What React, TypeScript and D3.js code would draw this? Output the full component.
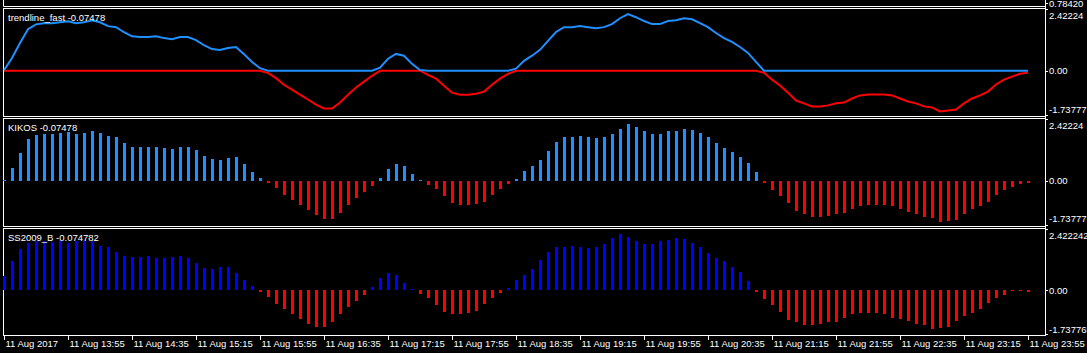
import React from "react";
import * as d3 from "d3";

// trendline_fast and KIKOS (same series)
const values: number[] = [
  0.02, 0.5, 1.09, 1.63, 1.82, 1.86, 1.86, 1.9, 1.94, 1.86,
  1.9, 1.98, 1.9, 1.75, 1.71, 1.51, 1.35, 1.32, 1.32, 1.35,
  1.28, 1.24, 1.32, 1.32, 1.2, 1.0, 0.85, 0.81, 0.89, 0.93,
  0.65, 0.34, 0.1, -0.09, -0.29, -0.55, -0.74, -0.94, -1.13, -1.33,
  -1.48, -1.48, -1.25, -0.94, -0.66, -0.43, -0.2, 0.12, 0.47, 0.66,
  0.59, 0.27, 0.03, -0.16, -0.31, -0.59, -0.86, -0.94, -0.94, -0.9,
  -0.82, -0.55, -0.31, -0.12, 0.08, 0.39, 0.59, 0.82, 1.17, 1.52,
  1.71, 1.71, 1.75, 1.71, 1.67, 1.71, 1.83, 2.06, 2.22, 2.1,
  1.95, 1.83, 1.83, 1.95, 1.98, 2.06, 2.02, 1.87, 1.71, 1.48,
  1.28, 1.13, 0.93, 0.7, 0.35, -0.08, -0.35, -0.58, -0.86, -1.17,
  -1.28, -1.4, -1.4, -1.36, -1.28, -1.25, -1.09, -0.97, -0.93, -0.93,
  -0.93, -0.97, -1.09, -1.21, -1.28, -1.4, -1.44, -1.6, -1.56, -1.52,
  -1.28, -1.09, -0.97, -0.82, -0.54, -0.35, -0.23, -0.12, -0.07478,
];

// SS2009_B (one bar ahead)
const ssValues: number[] = [
  0.55, 1.13, 1.64, 1.87, 1.95, 1.95, 1.91, 1.99, 1.87, 1.95,
  1.99, 1.95, 1.75, 1.71, 1.52, 1.36, 1.32, 1.32, 1.36, 1.28,
  1.28, 1.32, 1.36, 1.25, 1.05, 0.86, 0.82, 0.93, 0.93, 0.66,
  0.39, 0.16, -0.09, -0.29, -0.55, -0.74, -0.94, -1.13, -1.33, -1.48,
  -1.48, -1.25, -0.94, -0.66, -0.43, -0.2, 0.12, 0.47, 0.66, 0.59,
  0.27, 0.03, -0.16, -0.31, -0.59, -0.86, -0.94, -0.94, -0.9, -0.82,
  -0.55, -0.31, -0.12, 0.08, 0.39, 0.59, 0.82, 1.17, 1.52, 1.71,
  1.71, 1.75, 1.71, 1.67, 1.71, 1.83, 2.06, 2.22, 2.1, 1.95,
  1.83, 1.83, 1.95, 1.98, 2.06, 2.02, 1.87, 1.71, 1.48, 1.28,
  1.13, 0.93, 0.7, 0.35, -0.08, -0.35, -0.58, -0.86, -1.17, -1.28,
  -1.4, -1.4, -1.36, -1.28, -1.25, -1.09, -0.97, -0.93, -0.93, -0.93,
  -0.97, -1.09, -1.16, -1.23, -1.35, -1.39, -1.55, -1.51, -1.47, -1.23,
  -1.04, -0.92, -0.77, -0.53, -0.31, -0.18, -0.05, -0.04, -0.074782,
];

const timeLabels: string[] = [
  "11 Aug 2017", "11 Aug 13:55", "11 Aug 14:35", "11 Aug 15:15", "11 Aug 15:55",
  "11 Aug 16:35", "11 Aug 17:15", "11 Aug 17:55", "11 Aug 18:35", "11 Aug 19:15",
  "11 Aug 19:55", "11 Aug 20:35", "11 Aug 21:15", "11 Aug 21:55", "11 Aug 22:35",
  "11 Aug 23:15", "11 Aug 23:55",
];
const barsPerLabel = 8;

const paneTitles: string[] = ["trendline_fast -0.07478", "KIKOS -0.07478", "SS2009_B -0.074782"];
const paneMax: string[] = ["2.42224", "2.42224", "2.422242"];
const paneMin: string[] = ["-1.73777", "-1.73777", "-1.737765"];
const domainMin = -1.73777;
const domainMax = 2.42224;
const mainScaleLabel = "0.78420";

const W = 1087;
const H = 353;
const LEFT = 3.5;
const RIGHT = 1045.5;
const panes = [
  { top: 8, bottom: 116, maxOff: 7, minOff: 6.5 },
  { top: 118, bottom: 226, maxOff: 7, minOff: 8 },
  { top: 228, bottom: 335, maxOff: 7, minOff: 5.5 },
];
const FONT = "'Liberation Sans', Arial, sans-serif";
const FS = 9.5;
const LINE_BLUE = "#1E90FF";
const HIST_BLUE = "#1E90FF";
const DEEP_BLUE = "#0000FF";
const RED = "#FF0000";

export default function App() {
  const x = d3.scaleLinear().domain([0, values.length - 1]).range([4, 1028]);
  const ys = panes.map((p) =>
    d3.scaleLinear().domain([domainMin, domainMax]).range([p.bottom - 1, p.top + 1])
  );
  const y0 = ys[0];
  const blueLine = d3
    .line<number>()
    .x((_, i) => x(i))
    .y((d) => y0(Math.max(d, 0)));
  const redLine = d3
    .line<number>()
    .x((_, i) => x(i))
    .y((d) => y0(Math.min(d, 0)));

  const hist = (pi: number, data: number[], pos: string, neg: string) => {
    const y = ys[pi];
    const z = Math.round(y(0));
    return data.map((v, i) => {
      const h = Math.max(1, Math.round(Math.abs(y(v) - y(0))));
      return (
        <rect
          key={`h${pi}-${i}`}
          x={Math.round(x(i)) - 1}
          y={v >= 0 ? z - h : z}
          width={3}
          height={h}
          fill={v >= 0 ? pos : neg}
        />
      );
    });
  };

  const tickIdx = timeLabels.map((_, k) => k * barsPerLabel);

  return (
    <>
      <style>{`body{margin:0;background:#000;} svg{display:block;}`}</style>
      <svg width={W} height={H} viewBox={`0 0 ${W} ${H}`} style={{ background: "#000" }}>
        <rect x={0} y={0} width={W} height={H} fill="#000" />
        {/* main window bottom */}
        <line x1={LEFT} x2={RIGHT} y1={6.5} y2={6.5} stroke="#fff" />
        <line x1={LEFT} x2={LEFT} y1={0} y2={6.5} stroke="#fff" />
        <line x1={1045.5} x2={1048} y1={3.5} y2={3.5} stroke="#fff" />
        <text x={1049} y={7} fill="#fff" fontFamily={FONT} fontSize={FS}>
          {mainScaleLabel}
        </text>
        {/* right axis line */}
        <line x1={RIGHT} x2={RIGHT} y1={0} y2={panes[2].bottom + 0.5} stroke="#fff" />

        {panes.map((p, pi) => (
          <rect
            key={`pane${pi}`}
            x={LEFT}
            y={p.top + 0.5}
            width={RIGHT - LEFT}
            height={p.bottom - p.top}
            fill="none"
            stroke="#fff"
          />
        ))}

        {/* pane 1: lines */}
        <path d={redLine(values) || ""} fill="none" stroke={RED} strokeWidth={2} />
        <path d={blueLine(values) || ""} fill="none" stroke={LINE_BLUE} strokeWidth={2} />

        {/* pane 2 and 3 histograms */}
        {hist(1, values, HIST_BLUE, RED)}
        {hist(2, ssValues, DEEP_BLUE, RED)}

        {panes.map((p, pi) => {
          const z = ys[pi](0);
          return (
            <g key={`lab${pi}`} fontFamily={FONT} fontSize={FS} fill="#fff">
              <text x={8} y={p.top + 12.5}>{paneTitles[pi]}</text>
              <line x1={1045.5} x2={1048} y1={p.top + 1.5} y2={p.top + 1.5} stroke="#fff" />
              <text x={1049} y={p.top + p.maxOff + 3.5}>{paneMax[pi]}</text>
              <line x1={1045.5} x2={1048} y1={Math.round(z) + 0.5} y2={Math.round(z) + 0.5} stroke="#fff" />
              <text x={1049} y={z + 3.5}>0.00</text>
              <line x1={1045.5} x2={1048} y1={p.bottom - 0.5} y2={p.bottom - 0.5} stroke="#fff" />
              <text x={1049} y={p.bottom - p.minOff + 3.5}>{paneMin[pi]}</text>
            </g>
          );
        })}

        {/* time axis */}
        {tickIdx.map((idx, k) => {
          const tx = Math.round(x(idx)) + 0.5;
          return (
            <g key={`t${k}`}>
              <line x1={tx} x2={tx} y1={335} y2={340} stroke="#fff" />
              <text x={tx + 1} y={347} fill="#fff" fontFamily={FONT} fontSize={FS}>
                {timeLabels[k]}
              </text>
            </g>
          );
        })}
      </svg>
    </>
  );
}
